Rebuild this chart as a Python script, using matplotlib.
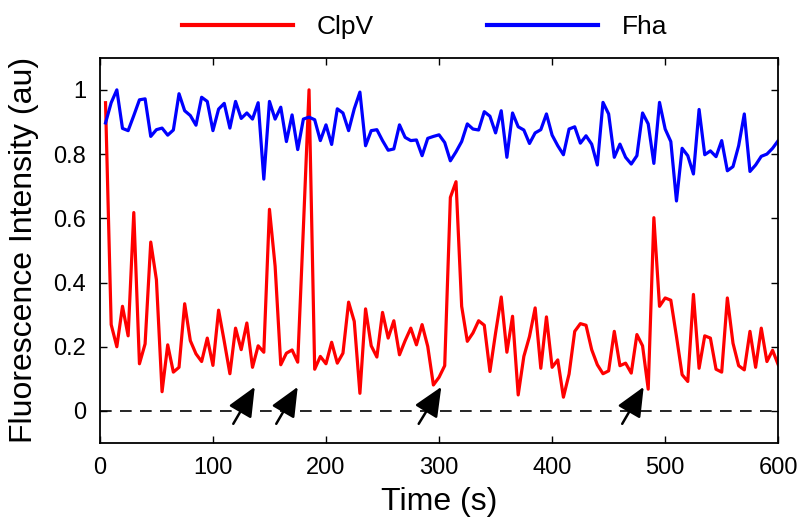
import matplotlib
matplotlib.use("Agg")
import matplotlib.pyplot as plt
import numpy as np

plt.rcParams['font.family'] = ['Liberation Sans Narrow', 'Liberation Sans', 'DejaVu Sans']

# time points, one frame every 5 s
time = np.arange(5, 601, 5)

clpv = [0.96, 0.269, 0.20, 0.326, 0.234, 0.618, 0.147, 0.209, 0.526, 0.409,
        0.060, 0.206, 0.121, 0.136, 0.334, 0.219, 0.178, 0.154, 0.227, 0.142,
        0.314, 0.217, 0.116, 0.258, 0.191, 0.274, 0.136, 0.203, 0.183,
        0.628, 0.451, 0.144, 0.18, 0.19, 0.152, 0.57, 1.0, 0.13, 0.17,
        0.147, 0.214, 0.149, 0.18, 0.339, 0.279, 0.055, 0.318, 0.203, 0.168,
        0.307, 0.227, 0.281, 0.175, 0.219, 0.258, 0.206, 0.269, 0.201, 0.081,
        0.105, 0.141, 0.665, 0.714, 0.326, 0.217, 0.243, 0.281, 0.267, 0.123,
        0.243, 0.355, 0.183, 0.295, 0.05, 0.17, 0.232, 0.321, 0.133, 0.293,
        0.136, 0.159, 0.043, 0.115, 0.248, 0.272, 0.267, 0.191, 0.144, 0.116,
        0.125, 0.248, 0.141, 0.149, 0.118, 0.238, 0.203, 0.068, 0.602, 0.326,
        0.352, 0.345, 0.232, 0.113, 0.092, 0.363, 0.133, 0.234, 0.227, 0.130,
        0.121, 0.352, 0.211, 0.141, 0.128, 0.248, 0.136, 0.258, 0.154, 0.189,
        0.144]

fha = [0.897, 0.96, 1.0, 0.88, 0.873, 0.92, 0.969, 0.972, 0.855, 0.876,
       0.881, 0.859, 0.875, 0.988, 0.935, 0.92, 0.89, 0.977, 0.964, 0.873,
       0.94, 0.958, 0.881, 0.964, 0.911, 0.928, 0.909, 0.96, 0.722,
       0.964, 0.909, 0.946, 0.839, 0.922, 0.814, 0.909, 0.915, 0.907, 0.842,
       0.891, 0.830, 0.941, 0.928, 0.873, 0.941, 0.993, 0.826, 0.873, 0.876,
       0.842, 0.812, 0.816, 0.891, 0.852, 0.842, 0.844, 0.795, 0.849, 0.855,
       0.86, 0.836, 0.779, 0.807, 0.839, 0.894, 0.878, 0.875, 0.932, 0.918,
       0.866, 0.935, 0.79, 0.928, 0.885, 0.875, 0.833, 0.866, 0.876, 0.925,
       0.859, 0.826, 0.798, 0.878, 0.885, 0.834, 0.857, 0.831, 0.766, 0.961,
       0.925, 0.79, 0.831, 0.79, 0.769, 0.795, 0.928, 0.894, 0.771, 0.961,
       0.878, 0.839, 0.654, 0.818, 0.795, 0.738, 0.939, 0.798, 0.81, 0.792,
       0.842, 0.748, 0.761, 0.826, 0.925, 0.746, 0.766, 0.793, 0.8, 0.818,
       0.842]

# arrows marking ClpV bursts: tail -> tip
arrow_tail_t = [118, 156, 282, 462]
arrow_tip_t = [137, 175, 302, 481]
arrow_tail_y = -0.04
arrow_tip_y = 0.075

fig = plt.figure(figsize=(7.99, 5.25), dpi=100)
ax = fig.add_axes([0.125, 0.156, 0.849, 0.734])

ax.axhline(0, color='black', lw=1.2, ls=(0, (7, 5)))
ax.plot(time, clpv, color='#ff0000', lw=2.3, label='ClpV')
ax.plot(time, fha, color='#0000ff', lw=2.3, label='Fha')

for t0, t1 in zip(arrow_tail_t, arrow_tip_t):
    ax.annotate('', xy=(t1, arrow_tip_y), xytext=(t0, arrow_tail_y),
                arrowprops=dict(arrowstyle='-|>,head_length=1.8,head_width=0.8',
                                color='black', lw=1.8, shrinkA=0, shrinkB=0))

ax.set_xlim(0, 600)
ax.set_ylim(-0.1, 1.1)
ax.set_xticks(range(0, 601, 100))
ax.set_yticks([0, 0.2, 0.4, 0.6, 0.8, 1])
ax.set_yticklabels(['0', '0.2', '0.4', '0.6', '0.8', '1'])
ax.tick_params(direction='in', length=5, width=1, top=True, right=True,
               labelsize=17, pad=10)
for s in ax.spines.values():
    s.set_linewidth(1.3)

ax.set_xlabel('Time (s)', fontsize=23, labelpad=6)
ax.set_ylabel('Fluorescence Intensity (au)', fontsize=23, labelpad=10)

leg = ax.legend(loc='lower center', bbox_to_anchor=(0.479, 1.0), ncol=2, frameon=False,
                fontsize=19, handlelength=4.2, columnspacing=4.3, handletextpad=0.9,
                borderaxespad=0.3)
for h in leg.get_lines():
    h.set_linewidth(3)

fig.savefig('out.png', dpi=100)
